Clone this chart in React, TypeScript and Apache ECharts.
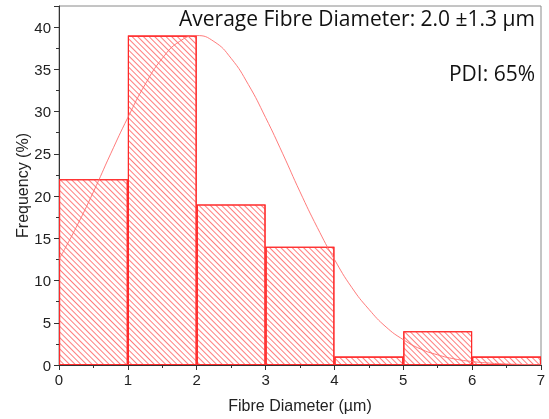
import React, { useEffect, useRef } from "react";
import * as echarts from "echarts";

// Histogram bins (µm) and frequencies (%)
const binLabels = ["0-1", "1-2", "2-3", "3-4", "4-5", "5-6", "6-7"];
const frequencies = [22, 39, 19, 14, 1, 4, 1];

// Fitted distribution curve sampled along the diameter axis
const curveX = [0, 0.25, 0.5, 0.75, 1, 1.25, 1.5, 1.75, 2, 2.25, 2.5, 2.75, 3, 3.25, 3.5, 3.75, 4, 4.25, 4.5, 4.75, 5, 5.25, 5.5, 5.75, 6, 6.25, 6.5, 6.75, 7];
const curveY = [12.5, 16.3, 20.5, 25.0, 29.3, 33.2, 36.3, 38.3, 39.0, 38.3, 36.3, 33.2, 29.3, 25.0, 20.5, 16.3, 12.5, 9.2, 6.6, 4.5, 3.0, 1.9, 1.2, 0.71, 0.41, 0.23, 0.12, 0.06, 0.03];

const annotationMain = "Average Fibre Diameter: 2.0 \u00b11.3 \u00b5m";
const annotationPdi = "PDI: 65%";

export default function App() {
  const ref = useRef<HTMLDivElement>(null);

  useEffect(() => {
    if (!ref.current) return;
    const chart = echarts.init(ref.current, null, { renderer: "svg" });
    const axisFont = "Liberation Sans, Arial, sans-serif";

    chart.setOption({
      animation: false,
      grid: {
        left: 59,
        right: 8,
        top: 6,
        bottom: 54,
        show: true,
        borderColor: "#8a8a8a",
        borderWidth: 1,
        backgroundColor: "transparent",
      },
      xAxis: [
        {
          type: "category",
          data: binLabels,
          position: "top",
          boundaryGap: true,
          axisLine: { show: false },
          axisTick: { show: false },
          axisLabel: { show: false },
          splitLine: { show: false },
        },
        {
          type: "value",
          min: 0,
          max: 7,
          interval: 1,
          position: "bottom",
          name: "Fibre Diameter (\u00b5m)",
          nameLocation: "middle",
          nameGap: 32,
          nameMoveOverlap: false,
          nameTextStyle: { fontFamily: axisFont, fontSize: 16, color: "#222" },
          axisLine: { show: true, onZero: false, lineStyle: { color: "#333", width: 1 } },
          axisTick: { show: true, length: 5, lineStyle: { color: "#333" } },
          minorTick: { show: true, splitNumber: 2, length: 3, lineStyle: { color: "#333" } },
          axisLabel: { fontFamily: axisFont, fontSize: 15, color: "#222", margin: 7 },
          splitLine: { show: false },
        },
      ],
      yAxis: {
        type: "value",
        min: 0,
        max: 42.5,
        interval: 5,
        name: "Frequency (%)",
        nameLocation: "middle",
        nameGap: 29,
        nameMoveOverlap: false,
        nameTextStyle: { fontFamily: axisFont, fontSize: 16, color: "#222" },
        axisLine: { show: true, lineStyle: { color: "#333", width: 1 } },
        axisTick: { show: true, length: 5, lineStyle: { color: "#333" } },
        minorTick: { show: true, splitNumber: 2, length: 3, lineStyle: { color: "#333" } },
        axisLabel: {
          fontFamily: axisFont,
          fontSize: 15,
          color: "#222",
          margin: 8,
          showMaxLabel: false,
          formatter: (v: number) => (v % 5 === 0 ? String(v) : ""),
        },
        splitLine: { show: false },
      },
      series: [
        {
          type: "bar",
          xAxisIndex: 0,
          data: frequencies,
          barWidth: "100%",
          itemStyle: {
            color: "rgba(255,255,255,0)",
            borderColor: "#ff2a2a",
            borderWidth: 1.1,
            decal: {
              symbol: "rect",
              symbolSize: 1,
              dashArrayX: [1, 0],
              dashArrayY: [1, 2.4],
              rotation: Math.PI / 4,
              color: "rgba(255,70,70,0.7)",
              backgroundColor: "rgba(255,255,255,0)",
            },
          },
          z: 2,
        },
        {
          type: "line",
          xAxisIndex: 1,
          data: curveX.map((x, i) => [x, curveY[i]]),
          smooth: true,
          symbol: "none",
          lineStyle: { color: "rgba(255,110,110,0.9)", width: 1 },
          z: 3,
        },
      ],
      graphic: [
        {
          type: "text",
          right: 14,
          top: 7,
          style: {
            text: annotationMain,
            fontFamily: "Open Sans, sans-serif",
            fontSize: 21,
            fill: "#111",
          },
        },
        {
          type: "text",
          right: 14,
          top: 62,
          style: {
            text: annotationPdi,
            fontFamily: "Open Sans, sans-serif",
            fontSize: 21,
            fill: "#111",
          },
        },
      ],
    });

    return () => chart.dispose();
  }, []);

  return (
    <div
      ref={ref}
      style={{ position: "fixed", left: 0, top: 0, width: 549, height: 419 }}
    />
  );
}
